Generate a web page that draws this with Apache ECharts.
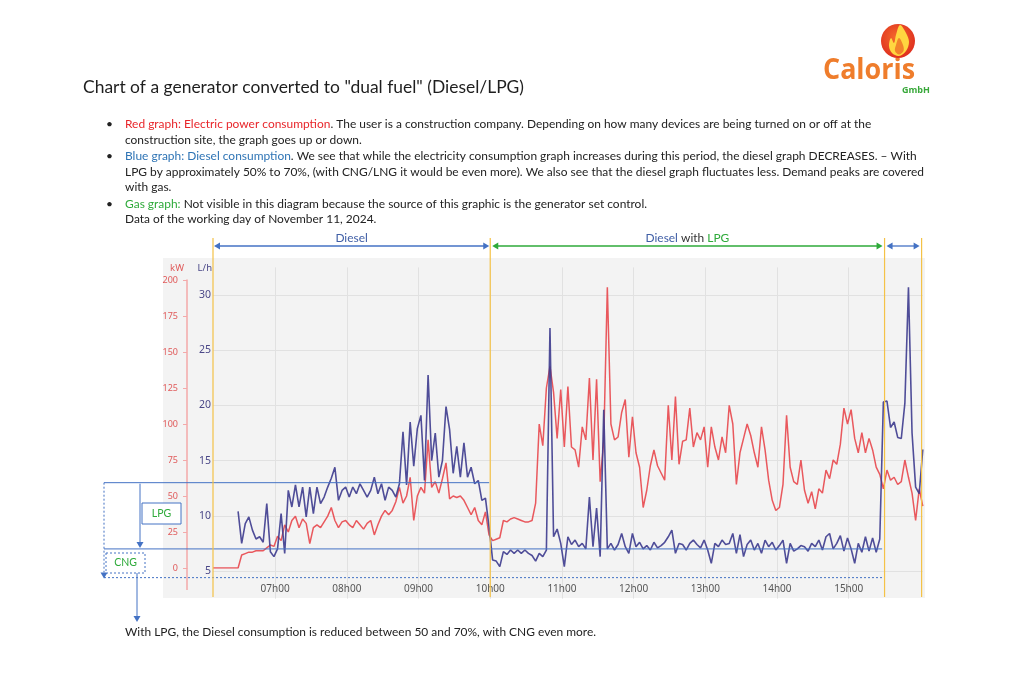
<!DOCTYPE html>
<html><head><meta charset="utf-8">
<script src="https://cdn.jsdelivr.net/npm/echarts@6/dist/echarts.min.js"></script>
<style>html,body{margin:0;padding:0;background:#fff;}#c{width:1024px;height:685px;}</style>
</head><body><div id="c"></div>
<script>
// ---- data (minutes since midnight, 3-minute samples) ----
const stepMin = 3;
const redStart = 368;   // 06:08
const blueStart = 389;  // 06:29
const redKW = [
 0,0,0,0,0,0,0,0,
 9,10,11,11,12,12,12,14,16,15,
 22,19,30,25,33,36,28,34,31,17,
 28,30,28,32,36,42,33,28,32,33,
 30,28,33,30,27,31,33,23,30,36,
 40,37,40,46,56,45,50,63,33,50,
 56,52,89,56,60,52,62,73,48,50,
 49,50,47,42,37,42,33,30,39,23,
 19,20,21,
 33,32,34,35,34,33,32,32,33,45,100,85,125,
 140,122,90,124,84,126,84,82,70,98,
 89,132,75,131,60,88,195,100,89,91,
 108,117,77,105,80,70,42,54,71,82,
 71,66,61,113,75,119,72,88,89,111,
 84,94,89,98,70,98,84,75,91,80,113,
 100,58,80,90,100,92,80,70,98,82,
 61,47,40,42,58,106,70,60,58,75,
 54,45,53,41,55,52,68,62,75,72,
 86,111,100,110,90,80,94,80,90,82,
 70,65,55,68,61,63,58,60,75,63,
 52,33,55,43
];
const blueLh = [
 10.4,7.5,9.3,9.9,8.7,7.9,8.1,7.6,11.1,6.75,
 6.3,7.0,10.2,6.6,12.3,10.8,12.8,10.8,12.6,9.9,
 12.6,10.2,12.6,11.1,11.7,12.6,13.4,14.4,11.4,12.3,
 12.6,11.7,12.6,12.0,12.9,12.3,11.7,12.3,13.5,12.0,
 12.9,11.4,12.6,12.3,11.7,12.9,17.6,12.8,18.5,14.5,
 17.9,19.1,13.2,22.75,15.0,17.5,13.5,15.0,19.9,17.8,
 13.85,16.3,13.5,16.6,13.5,14.4,12.9,13.2,11.4,11.6,
 9.0,6.0,5.9,5.4,6.75,6.5,6.9,6.6,6.9,6.6,
 6.9,6.6,6.4,5.9,6.6,6.3,6.9,27.0,8.1,8.8,
 7.5,5.4,8.1,7.4,7.8,7.2,7.5,7.0,11.7,7.2,
 10.7,6.3,19.6,7.0,7.5,6.9,7.4,8.4,7.2,6.6,
 8.4,7.2,7.6,7.0,7.3,6.9,7.6,7.1,7.3,7.6,
 8.1,8.7,6.6,7.5,7.4,6.9,7.5,7.8,7.4,7.1,
 7.8,6.9,5.7,7.5,7.2,7.8,7.4,
 7.5,8.4,6.6,8.3,6.3,7.4,7.8,6.9,7.5,6.6,
 7.8,7.2,7.6,6.9,7.3,7.8,5.7,7.5,6.8,7.0,
 7.3,7.2,6.8,7.5,7.2,7.8,6.9,8.1,8.4,7.0,
 7.5,8.2,6.8,8.0,7.0,5.7,7.5,6.7,8.1,6.8,
 8.0,6.7,7.9,20.3,20.4,18.0,18.5,17.1,17.0,20.2,
 30.7,17.5,12.6,12.0,16.0
];
const hourTicks = [420,480,540,600,660,720,780,840,900];
const hourLabels = ['07h00','08h00','09h00','10h00','11h00','12h00','13h00','14h00','15h00'];
const kwTicks = [0,25,50,75,100,125,150,175,200];
const lhTicks = [5,10,15,20,25,30];
const phaseTimes = [368, 600, 930, 961]; // Diesel | Diesel with LPG | Diesel
const lpgBand = [13, 7];   // L/h band marked by the LPG lines
const cngLevel = 4.4;

const redData = redKW.map((v,i)=>[redStart+i*stepMin, v]);
const blueData = blueLh.map((v,i)=>[blueStart+i*stepMin, v]);

const chart = echarts.init(document.getElementById('c'), null, {renderer:'canvas'});
const option = {
  animation:false,
  backgroundColor:'#ffffff',
  grid:[
    {left:213, width:709.8, top:267.4, height:331.2},
    {left:213, width:709.8, top:280, height:288}
  ],
  xAxis:[
    {type:'value', gridIndex:0, min:368, max:962,
     axisLine:{show:false},
     axisTick:{show:false, customValues:hourTicks},
     axisLabel:{inside:true, margin:4, customValues:hourTicks,
       formatter:v=>hourLabels[hourTicks.indexOf(v)]||'',
       color:'#555', fontSize:10, fontFamily:'Noto Sans'},
     splitLine:{show:true, lineStyle:{color:'#e1e1e1', width:1}}},
    {type:'value', gridIndex:1, min:368, max:962, show:false}
  ],
  yAxis:[
    {type:'value', gridIndex:0, min:2.5, max:32.5,
     axisLine:{show:false},
     axisTick:{show:false, customValues:lhTicks},
     axisLabel:{customValues:lhTicks, margin:2, color:'#4a4787', fontSize:10.5, fontFamily:'Noto Sans'},
     splitLine:{show:true, lineStyle:{color:'#e1e1e1', width:1}}},
    {type:'value', gridIndex:1, min:0, max:200, interval:25, position:'left', offset:26,
     axisLine:{show:true, lineStyle:{color:'#f3a9a9', width:1.5}},
     axisTick:{show:true, length:4, lineStyle:{color:'#f3a9a9'}},
     axisLabel:{color:'#e05a5a', fontSize:9, margin:9, fontFamily:'Noto Sans'},
     splitLine:{show:false}}
  ],
  series:[
    {type:'line', name:'Electric power (kW)', xAxisIndex:1, yAxisIndex:1, data:redData,
     showSymbol:false, lineStyle:{color:'#e8474c', width:1.5, opacity:0.9}, z:2},
    {type:'line', name:'Diesel (L/h)', xAxisIndex:0, yAxisIndex:0, data:blueData,
     showSymbol:false, lineStyle:{color:'#3d3b8e', width:1.6, opacity:0.9}, z:3}
  ]
};
chart.setOption(option);

// ---- annotations ----
const px = t => chart.convertToPixel({gridIndex:0}, [t, 10])[0];
const py = v => chart.convertToPixel({gridIndex:0}, [400, v])[1];
const G = [];
const BLUE = '#4472c4', GREEN = '#2eaa3a', YEL = '#f4c247';
function line(x1,y1,x2,y2,color,w,dash,z){
  G.push({type:'line', silent:true, z:z||100, shape:{x1,y1,x2,y2},
    style:{stroke:color, lineWidth:w||1, lineDash:dash||null}});
}
function head(x,y,dir,color){
  const L=6,H=3.5; let p;
  if(dir==='r') p=[[x,y],[x-L,y-H],[x-L,y+H]];
  else if(dir==='l') p=[[x,y],[x+L,y-H],[x+L,y+H]];
  else p=[[x,y],[x-H,y-L],[x+H,y-L]];
  G.push({type:'polygon', silent:true, z:101, shape:{points:p}, style:{fill:color}});
}
function darrow(x1,x2,y,color){ line(x1+2,y,x2-2,y,color,1.3); head(x1,y,'l',color); head(x2,y,'r',color); }
const cvs = document.createElement('canvas').getContext('2d');
function measure(str,size,fam,weight){ cvs.font=(weight||'normal')+' '+size+'px '+fam; return cvs.measureText(str).width; }
function txt(str, x, y, o){
  G.push({type:'text', silent:true, z:110, x:x, y:y, scaleX:o.scale||1,
    style:{text:str, fill:o.fill||'#222', fontSize:o.size||12, fontFamily:o.fam||'Lato',
      fontWeight:o.weight||'normal', align:o.align||'left', verticalAlign:'middle', rich:o.rich}});
}

const bodyFam='Lato', bodySize=12;
const L4='LPG by approximately 50% to 70%, (with CNG/LNG it would be even more). We also see that the diesel graph fluctuates less. Demand peaks are covered';
const sB = 799/measure(L4,bodySize,bodyFam);
const richC = {r:{fill:'#e8262b',color:'#e8262b'}, b:{fill:'#2e74b5',color:'#2e74b5'}, g:{fill:GREEN,color:GREEN},
  d:{fill:'#3f5ea6',color:'#3f5ea6'}, k:{fill:'#333',color:'#333'}};

// background panel
G.push({type:'rect', silent:true, z:-10, shape:{x:163,y:258,width:762,height:340}, style:{fill:'#f3f3f3'}});

// title
const title='Chart of a generator converted to "dual fuel" (Diesel/LPG)';
txt(title,83,88,{size:17,fill:'#1e1e1e',scale:441/measure(title,17,bodyFam)});

// bullets
[124,156,204].forEach(y=>txt('\u2022',106,y,{size:12}));
const lines=[
 ['{r|Red graph: Electric power consumption}. The user is a construction company. Depending on how many devices are being turned on or off at the',124],
 ['construction site, the graph goes up or down.',140],
 ['{b|Blue graph: Diesel consumption}. We see that while the electricity consumption graph increases during this period, the diesel graph DECREASES. \u2013 With',156],
 [L4,172],
 ['with gas.',187],
 ['{g|Gas graph:} Not visible in this diagram because the source of this graphic is the generator set control.',204],
 ['Data of the working day of November 11, 2024.',219]
];
lines.forEach(([s,y])=>txt(s,125,y,{size:bodySize,scale:sB,rich:richC}));

// phase arrows & yellow lines
const phx = phaseTimes.map(px);
phx.forEach(x=>line(x,238,x,597,YEL,1.2,null,105));
darrow(phx[0]+1,phx[1]-1,246,BLUE);
darrow(phx[1]+2,phx[2]-2,246,GREEN);
darrow(phx[2]+2,phx[3]-2,246,BLUE);
txt('Diesel',(phx[0]+phx[1])/2,238,{size:12,fill:'#3f5ea6',align:'center',scale:sB});
txt('{d|Diesel} {k|with} {g|LPG}',(phx[1]+phx[2])/2,238,{size:12,align:'center',scale:sB,rich:richC});

// LPG / CNG annotation
const yTop=py(lpgBand[0]), yBot=py(lpgBand[1]), yC=py(cngLevel);
line(104,yTop,phx[1]-1,yTop,BLUE,1);
line(104,yBot,px(928),yBot,BLUE,1);
line(104,yTop,104,yC-5,BLUE,1,[2,2]);
head(104,yC+1,'d',BLUE);
line(104,yC,px(928),yC,BLUE,1,[2,2]);
line(140,yTop+1,140,yBot-5,BLUE,1);
head(140,yBot-1,'d',BLUE);
G.push({type:'rect',silent:true,z:102,shape:{x:142,y:503,width:39,height:21},style:{fill:'#fff',stroke:BLUE,lineWidth:1}});
txt('LPG',161.5,513.5,{size:10.5,fill:GREEN,align:'center'});
G.push({type:'rect',silent:true,z:102,shape:{x:106,y:553,width:39,height:20},style:{fill:'#fff',stroke:BLUE,lineWidth:1,lineDash:[2,2]}});
txt('CNG',125.5,563,{size:10.5,fill:GREEN,align:'center'});
line(137,573,137,616,BLUE,1);
head(137,622,'d',BLUE);
txt('With LPG, the Diesel consumption is reduced between 50 and 70%, with CNG even more.',125,632,{size:12,scale:sB});

// red axis extension + axis names
line(187,568,187,590,'#f3a9a9',1.5,null,1);
txt('kW',184,268,{size:9.5,fill:'#e05a5a',align:'right',fam:'Noto Sans'});
txt('L/h',212,268,{size:9.5,fill:'#4a4787',align:'right',fam:'Noto Sans'});

// logo
G.push({type:'circle',silent:true,z:120,shape:{cx:898,cy:41,r:17},
  style:{fill:new echarts.graphic.RadialGradient(0.45,0.4,0.7,[{offset:0,color:'#f46a2c'},{offset:1,color:'#dc261d'}])}});
G.push({type:'polygon',silent:true,z:121,shape:{smooth:0.35,points:[[900,25],[906,33],[909,42],[906,51],[899,56],[892,53],[889,46],[891,38],[894,43],[896,35]]},
  style:{fill:'#ffd640'}});
G.push({type:'polygon',silent:true,z:122,shape:{smooth:0.35,points:[[899,38],[903,45],[903.5,51],[899,54.5],[895,51],[896,45]]},
  style:{fill:'#f2832b'}});
const lg='Caloris';
txt(lg,823,71,{size:28,weight:'bold',fam:'Open Sans',scale:92/measure(lg,28,'Open Sans','bold'),fill:'#ef7d2c'});
txt('GmbH',902,90,{size:9,weight:'bold',fam:'Open Sans',fill:'#38a83a'});

chart.setOption({graphic:{elements:G}});
</script></body></html>
